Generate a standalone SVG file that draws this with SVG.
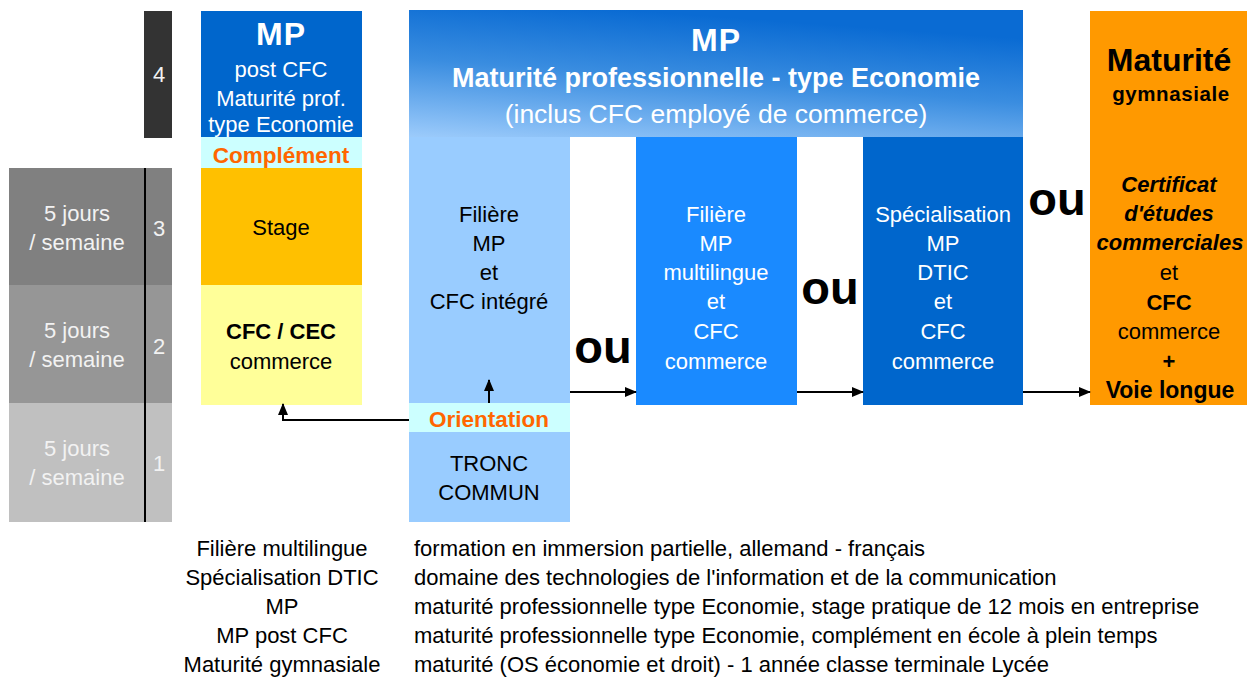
<svg xmlns="http://www.w3.org/2000/svg" width="1247" height="678" viewBox="0 0 1247 678">
<defs>
<linearGradient id="bannerGrad" x1="0" y1="1" x2="0.35" y2="0">
<stop offset="0" stop-color="#9ccbfb"/>
<stop offset="0.55" stop-color="#3a8de0"/>
<stop offset="1" stop-color="#0a6bd3"/>
</linearGradient>
<marker id="arr" markerWidth="12" markerHeight="10" refX="11" refY="5" orient="auto" markerUnits="userSpaceOnUse" viewBox="0 0 12 10">
<path d="M0,0 L12,5 L0,10 z" fill="#000"/>
</marker>
<style>
text{font-family:"Liberation Sans",Arial,sans-serif;text-anchor:middle}
.w{fill:#fff}
.k{fill:#000}
.lt{fill:#f2f2f2;font-size:22px}
.t19{font-size:22px}
.b{font-weight:bold}
.or{fill:#ff6600;font-weight:bold;font-size:22.5px}
.ou{font-size:47px;font-weight:bold;fill:#000}
.leg{font-size:22px;fill:#000}
.ls{text-anchor:start}
.conn{stroke:#000;stroke-width:2;fill:none}
</style>
</defs>

<g id="years">
<rect x="144" y="11" width="28" height="127" fill="#333333"/>
<text x="159" y="82" class="lt">4</text>
<rect x="9" y="168" width="163" height="117" fill="#808080"/>
<rect x="9" y="285" width="163" height="118" fill="#969696"/>
<rect x="9" y="403" width="163" height="119" fill="#c0c0c0"/>
<line x1="145" y1="168" x2="145" y2="522" stroke="#000" stroke-width="2"/>
<text x="77" y="221" class="lt">5 jours</text>
<text x="77" y="250" class="lt">/ semaine</text>
<text x="159" y="236" class="lt">3</text>
<text x="77" y="338" class="lt">5 jours</text>
<text x="77" y="367" class="lt">/ semaine</text>
<text x="159" y="354" class="lt">2</text>
<text x="77" y="456" class="lt">5 jours</text>
<text x="77" y="485" class="lt">/ semaine</text>
<text x="159" y="471" class="lt">1</text>
</g>

<g id="mp-post-cfc">
<rect x="201" y="11" width="161" height="126" fill="#0066cc"/>
<text x="281" y="45" class="w b" font-size="32" letter-spacing="1">MP</text>
<text x="281" y="77" class="w t19">post CFC</text>
<text x="281" y="106" class="w t19">Maturité prof.</text>
<text x="281" y="132" class="w t19">type Economie</text>
</g>
<g id="complement">
<rect x="201" y="137" width="161" height="31" fill="#ccffff"/>
<text x="281" y="163" class="or">Complément</text>
</g>
<g id="stage">
<rect x="201" y="168" width="161" height="117" fill="#ffc000"/>
<text x="281" y="235" class="k t19">Stage</text>
</g>
<g id="cfc-cec">
<rect x="201" y="285" width="161" height="120" fill="#ffff99"/>
<text x="281" y="339" class="k t19 b">CFC / CEC</text>
<text x="281" y="369" class="k t19">commerce</text>
</g>

<g id="banner">
<rect x="409" y="10" width="614" height="127" fill="url(#bannerGrad)"/>
<text x="716" y="51" class="w b" font-size="32" letter-spacing="1">MP</text>
<text x="716" y="87" class="w b" font-size="27">Maturité professionnelle - type Economie</text>
<text x="716" y="123" class="w" font-size="26.5">(inclus CFC employé de commerce)</text>
</g>

<g id="filiere-mp">
<rect x="409" y="137" width="161" height="266" fill="#99ccff"/>
<text x="489" y="222" class="k t19">Filière</text>
<text x="489" y="251" class="k t19">MP</text>
<text x="489" y="280" class="k t19">et</text>
<text x="489" y="309" class="k t19">CFC intégré</text>
</g>
<g id="orientation">
<rect x="409" y="403" width="161" height="29" fill="#ccffff"/>
<text x="489" y="427" class="or">Orientation</text>
</g>
<g id="tronc-commun">
<rect x="409" y="432" width="161" height="90" fill="#99ccff"/>
<text x="489" y="471" class="k t19">TRONC</text>
<text x="489" y="500" class="k t19">COMMUN</text>
</g>

<g id="filiere-multilingue">
<rect x="636" y="137" width="161" height="268" fill="#1a8aff"/>
<text x="716" y="222" class="w t19">Filière</text>
<text x="716" y="251" class="w t19">MP</text>
<text x="716" y="280" class="w t19">multilingue</text>
<text x="716" y="309" class="w t19">et</text>
<text x="716" y="339" class="w t19">CFC</text>
<text x="716" y="369" class="w t19">commerce</text>
</g>

<g id="specialisation-dtic">
<rect x="863" y="137" width="160" height="268" fill="#0066cc"/>
<text x="943" y="222" class="w t19">Spécialisation</text>
<text x="943" y="251" class="w t19">MP</text>
<text x="943" y="280" class="w t19">DTIC</text>
<text x="943" y="309" class="w t19">et</text>
<text x="943" y="339" class="w t19">CFC</text>
<text x="943" y="369" class="w t19">commerce</text>
</g>

<g id="maturite-gymnasiale">
<rect x="1090" y="11" width="157" height="394" fill="#ff9900"/>
<text x="1169" y="71" class="k b" font-size="32">Maturité</text>
<text x="1171" y="101" class="k b" font-size="20.5" letter-spacing="0.6">gymnasiale</text>
<text x="1169" y="192" class="k b" font-size="22" font-style="italic">Certificat</text>
<text x="1169" y="221" class="k b" font-size="22" font-style="italic">d'études</text>
<text x="1170" y="250" class="k b" font-size="22" font-style="italic">commerciales</text>
<text x="1169" y="280" class="k t19">et</text>
<text x="1169" y="310" class="k t19 b">CFC</text>
<text x="1169" y="339" class="k t19">commerce</text>
<text x="1169" y="369" class="k t19 b">+</text>
<text x="1170" y="398" class="k b" font-size="23">Voie longue</text>
</g>

<g id="ou-labels">
<text x="603" y="363" class="ou">ou</text>
<text x="830" y="304" class="ou">ou</text>
<text x="1057" y="215" class="ou">ou</text>
</g>

<g id="connectors">
<path class="conn" d="M570,392 H636" marker-end="url(#arr)"/>
<path class="conn" d="M797,392 H863" marker-end="url(#arr)"/>
<path class="conn" d="M1023,392 H1090" marker-end="url(#arr)"/>
<path class="conn" d="M489,403 V380" marker-end="url(#arr)"/>
<path class="conn" d="M409,420 H283 V404" marker-end="url(#arr)"/>
</g>

<g id="legend">
<text x="282" y="556" class="leg">Filière multilingue</text>
<text x="282" y="585" class="leg">Spécialisation DTIC</text>
<text x="282" y="614" class="leg">MP</text>
<text x="282" y="643" class="leg">MP post CFC</text>
<text x="282" y="672" class="leg">Maturité gymnasiale</text>
<text x="414" y="556" class="leg ls">formation en immersion partielle, allemand - français</text>
<text x="414" y="585" class="leg ls">domaine des technologies de l'information et de la communication</text>
<text x="414" y="614" class="leg ls">maturité professionnelle type Economie, stage pratique de 12 mois en entreprise</text>
<text x="414" y="643" class="leg ls">maturité professionnelle type Economie, complément en école à plein temps</text>
<text x="414" y="672" class="leg ls">maturité (OS économie et droit) - 1 année classe terminale Lycée</text>
</g>
</svg>
